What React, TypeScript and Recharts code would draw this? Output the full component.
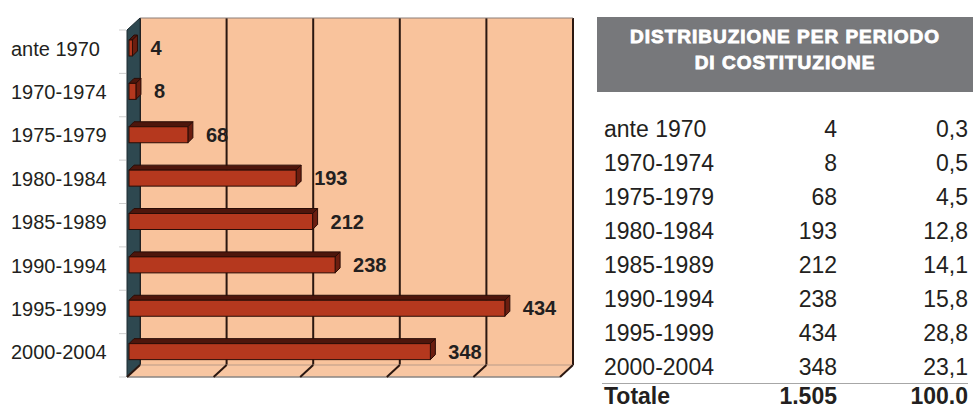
import React from "react";
import { BarChart, Bar, XAxis, YAxis, CartesianGrid, ReferenceArea, LabelList } from "recharts";

const periods = ["ante 1970", "1970-1974", "1975-1979", "1980-1984", "1985-1989", "1990-1994", "1995-1999", "2000-2004"];
const counts = [4, 8, 68, 193, 212, 238, 434, 348];
const shares = [0.3, 0.5, 4.5, 12.8, 14.1, 15.8, 28.8, 23.1];
const xTicks = [0, 100, 200, 300, 400, 500];
const titleLines = ["DISTRIBUZIONE PER PERIODO", "DI COSTITUZIONE"];
const totalLabel = "Totale";
const totalCount = 1505;
const totalShare = 100.0;

const data = periods.map((period, i) => ({ period, count: counts[i] }));

// finta prospettiva 3D: parete di fondo = area del grafico
const DX = 13; // profondità della scatola (orizzontale)
const DY = 12; // profondità della scatola (verticale)
const BX = 11; // faccia frontale delle barre rispetto al fondo
const BY = 8;
const BD = 5; // spessore della barra

const FONT = "'Liberation Sans', Arial, sans-serif";
const INK = "#231f20";
const EDGE = "#2b1710";

const fmtShare = (v: number) => v.toFixed(1).replace(".", ",");
const fmtThousands = (v: number) => String(v).replace(/\B(?=(\d{3})+(?!\d))/g, ".");

function Bar3D(props: any) {
  const { x, y, width, height } = props;
  if (x == null || width == null) return null;
  const w = Math.max(width, 0);
  const fx = x - BX;
  const fy = y + BY;
  return (
    <g>
      <polygon
        points={`${fx},${fy} ${fx + w},${fy} ${fx + w + BD},${fy - BD} ${fx + BD},${fy - BD}`}
        fill="#4e160c"
        stroke="#2a0c06"
        strokeWidth={1}
      />
      <polygon
        points={`${fx + w},${fy} ${fx + w + BD},${fy - BD} ${fx + w + BD},${fy + height - BD} ${fx + w},${fy + height}`}
        fill="#6b1e10"
        stroke="#2a0c06"
        strokeWidth={1}
      />
      <rect x={fx} y={fy} width={w} height={height} fill="#b5381e" stroke="#2a0c06" strokeWidth={1} />
    </g>
  );
}

function Box3D(props: any) {
  const { x, y, width, height } = props;
  if (x == null) return null;
  const b = y + height;
  return (
    <g>
      <line x1={x} y1={y} x2={x + width} y2={y} stroke="#8c7f78" strokeWidth={1} />
      <polygon
        points={`${x},${b} ${x + width},${b} ${x + width - DX},${b + DY} ${x - DX},${b + DY}`}
        fill="#f8c6a2"
        stroke="none"
      />
      <line x1={x - DX} y1={b + DY} x2={x + width - DX} y2={b + DY} stroke="#8a8582" strokeWidth={1.5} />
      <line x1={x} y1={b} x2={x + width} y2={b} stroke="#b89a88" strokeWidth={1} />
      <polygon
        points={`${x - DX},${y + DY} ${x},${y} ${x},${b} ${x - DX},${b + DY}`}
        fill="#2e4850"
        stroke="#1c2b30"
        strokeWidth={1}
      />
    </g>
  );
}

function FloorTick(props: any) {
  const { x, y } = props;
  return <line x1={x} y1={y} x2={x - DX} y2={y + DY} stroke={EDGE} strokeWidth={2} />;
}

function PeriodTick(props: any) {
  const { x, y, payload, index } = props;
  const half = payload && payload.offset ? payload.offset : 0;
  return (
    <g>
      {half > 0 && (
        <line x1={x - DX - 8} y1={y - half + DY} x2={x - DX - 1} y2={y - half + DY} stroke="#cfcfcf" strokeWidth={1} />
      )}
      {half > 0 && index === periods.length - 1 && (
        <line x1={x - DX - 8} y1={y + half + DY} x2={x - DX - 1} y2={y + half + DY} stroke="#cfcfcf" strokeWidth={1} />
      )}
      <text x={x - 129} y={y + BY + 1} dy="0.35em" textAnchor="start" fontFamily={FONT} fontSize={20} fill={INK}>
        {payload.value}
      </text>
    </g>
  );
}

function ValueLabel(props: any) {
  const vb = props.viewBox || {};
  const x = props.x ?? vb.x;
  const y = props.y ?? vb.y;
  const width = props.width ?? vb.width;
  const height = props.height ?? vb.height;
  if (x == null) return null;
  return (
    <text
      x={x + width - BX + BD + 13}
      y={y + height / 2 + BY}
      dy="0.35em"
      fontFamily={FONT}
      fontWeight="bold"
      fontSize={20}
      fill={INK}
    >
      {props.value}
    </text>
  );
}

const cell: React.CSSProperties = { position: "absolute", whiteSpace: "nowrap" };

function Table() {
  const rowTop = 112;
  const rowH = 34;
  const sepY = rowTop + periods.length * rowH - 1;
  return (
    <div style={{ position: "absolute", left: 0, top: 0, width: 973, height: 409, fontFamily: FONT, color: INK }}>
      <div
        style={{
          position: "absolute",
          left: 597,
          top: 17,
          width: 376,
          height: 75,
          background: "#77787b",
          color: "#fff",
          fontWeight: "bold",
          fontSize: 19,
          letterSpacing: 1,
          lineHeight: "26px",
          textAlign: "center",
          paddingTop: 7,
          boxSizing: "border-box",
          WebkitTextStroke: "0.9px #fff",
        }}
      >
        {titleLines.map((t) => (
          <div key={t}>{t}</div>
        ))}
      </div>
      {periods.map((p, i) => (
        <div key={p} style={{ position: "absolute", left: 0, top: rowTop + i * rowH, width: 973, height: rowH, lineHeight: `${rowH}px`, fontSize: 23 }}>
          <span style={{ ...cell, left: 604 }}>{p}</span>
          <span style={{ ...cell, right: 973 - 837 }}>{counts[i]}</span>
          <span style={{ ...cell, right: 973 - 968 }}>{fmtShare(shares[i])}</span>
        </div>
      ))}
      <div style={{ position: "absolute", left: 602, top: sepY, width: 366, height: 0, borderTop: "1.5px solid #a7a7a7" }} />
      <div
        style={{
          position: "absolute",
          left: 0,
          top: sepY + 1,
          width: 973,
          height: 24,
          lineHeight: "24px",
          fontSize: 23,
          fontWeight: "bold",
        }}
      >
        <span style={{ ...cell, left: 604 }}>{totalLabel}</span>
        <span style={{ ...cell, right: 973 - 837 }}>{fmtThousands(totalCount)}</span>
        <span style={{ ...cell, right: 973 - 968 }}>{totalShare.toFixed(1)}</span>
      </div>
    </div>
  );
}

export default function App() {
  return (
    <div style={{ position: "absolute", left: 0, top: 0, width: 973, height: 409, background: "#fff", overflow: "hidden" }}>
      <Table />
      <div style={{ position: "absolute", left: 0, top: 0 }}>
        <BarChart width={580} height={409} data={data} layout="vertical" margin={{ top: 18, right: 7, bottom: 14, left: 10 }}>
          <CartesianGrid
            horizontal={false}
            fill="#f9c39c"
            fillOpacity={1}
            vertical={(p: any) => (
              <line key={`v-${p.index}`} x1={p.x1} y1={p.y1} x2={p.x2} y2={p.y2} stroke={EDGE} strokeWidth={2} />
            )}
          />
          <ReferenceArea x1={0} x2={500} shape={<Box3D />} ifOverflow="visible" />
          <XAxis
            type="number"
            domain={[0, 500]}
            ticks={xTicks}
            interval={0}
            height={30}
            axisLine={false}
            tickLine={false}
            tickSize={0}
            tickMargin={0}
            tick={<FloorTick />}
          />
          <YAxis
            type="category"
            dataKey="period"
            width={130}
            axisLine={false}
            tickLine={false}
            tickSize={0}
            tickMargin={0}
            interval={0}
            tick={<PeriodTick />}
          />
          <Bar dataKey="count" barSize={16} shape={<Bar3D />} isAnimationActive={false}>
            <LabelList dataKey="count" content={<ValueLabel />} />
          </Bar>
        </BarChart>
      </div>
    </div>
  );
}
